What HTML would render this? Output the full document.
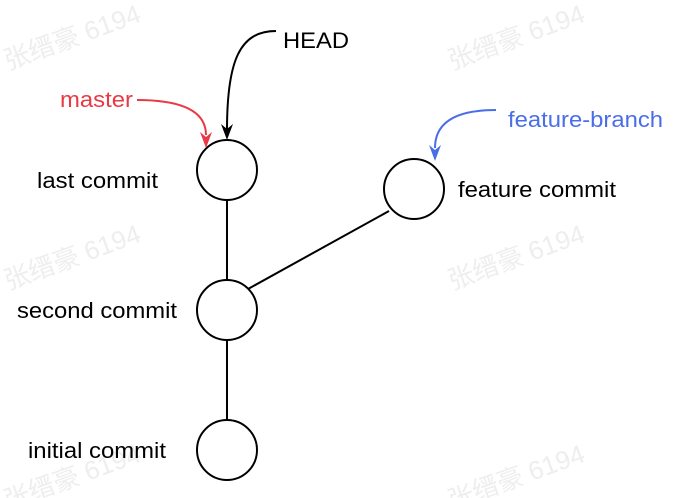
<!DOCTYPE html>
<html><head><meta charset="utf-8"><style>
html,body{margin:0;padding:0;background:#fff;}
svg{display:block}
text{font-family:"Liberation Sans","Noto Sans CJK SC",sans-serif;}
</style></head><body>
<svg width="694" height="498" viewBox="0 0 694 498" xmlns="http://www.w3.org/2000/svg">
<g fill="#eeeeee" font-size="26">
<text transform="translate(8,70) rotate(-20)">张缙豪 6194</text>
<text transform="translate(452,70) rotate(-20)">张缙豪 6194</text>
<text transform="translate(8,290) rotate(-20)">张缙豪 6194</text>
<text transform="translate(452,290) rotate(-20)">张缙豪 6194</text>
<text transform="translate(8,510) rotate(-20)">张缙豪 6194</text>
<text transform="translate(452,510) rotate(-20)">张缙豪 6194</text>
</g>
<g stroke="#000" stroke-width="2" fill="none">
<line x1="227" y1="200" x2="227" y2="280"/>
<line x1="227" y1="340" x2="227" y2="420"/>
<line x1="248" y1="289" x2="389" y2="211"/>
<circle cx="227" cy="170" r="30" fill="#fff"/>
<circle cx="414" cy="189" r="30" fill="#fff"/>
<circle cx="227" cy="310" r="30" fill="#fff"/>
<circle cx="227" cy="450" r="30" fill="#fff"/>
<path d="M276,31 C240,31 227,60 227,130"/>
</g>
<path d="M221,124 L227,140 L233,124 L227,129 Z" fill="#000"/>
<path d="M137,100 C180,100 206,110 206,135" stroke="#e83a45" stroke-width="2" fill="none"/>
<path d="M200,132 L206,148 L212,132 L206,137 Z" fill="#e83a45"/>
<path d="M496,110 C460,110 435,120 435,148" stroke="#4a6ee8" stroke-width="2" fill="none"/>
<path d="M429,145 L435,161 L441,145 L435,150 Z" fill="#4a6ee8"/>
<g font-size="22" fill="#000">
<text x="283" y="48" textLength="66" lengthAdjust="spacingAndGlyphs">HEAD</text>
<text x="37" y="188" textLength="121" lengthAdjust="spacingAndGlyphs">last commit</text>
<text x="458" y="197" textLength="158" lengthAdjust="spacingAndGlyphs">feature commit</text>
<text x="17" y="318" textLength="160" lengthAdjust="spacingAndGlyphs">second commit</text>
<text x="28" y="458" textLength="138" lengthAdjust="spacingAndGlyphs">initial commit</text>
</g>
<text x="60" y="107" font-size="22" fill="#e83a45" textLength="73" lengthAdjust="spacingAndGlyphs">master</text>
<text x="508" y="127" font-size="22" fill="#4a6ee8" textLength="155" lengthAdjust="spacingAndGlyphs">feature-branch</text>
</svg>
</body></html>
